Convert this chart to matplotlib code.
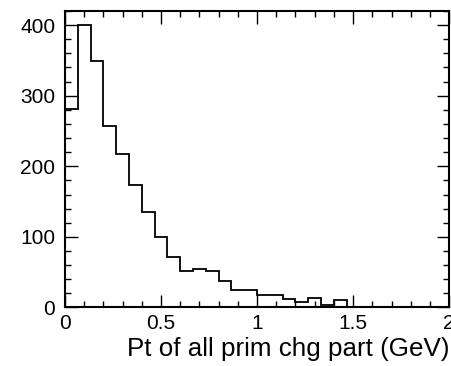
import matplotlib
matplotlib.use("Agg")
import matplotlib.pyplot as plt
import numpy as np
from matplotlib.ticker import MultipleLocator

# histogram: 30 bins from 0 to 2 GeV
bin_edges = np.linspace(0, 2, 31)
counts = [281, 400, 349, 257, 217, 174, 135, 100, 72, 51,
          55, 51, 37, 25, 25, 18, 18, 12, 8, 14,
          4, 11, 0, 0, 0, 0, 0, 0, 0, 0]

plt.rcParams['font.family'] = ['Liberation Sans', 'DejaVu Sans']

fig = plt.figure(figsize=(4.51, 3.66), dpi=100)
ax = fig.add_axes([0.144, 0.16, 0.852, 0.81])

ax.stairs(counts, bin_edges, color="black", linewidth=1.3)

ax.set_xlim(0, 2)
ax.set_ylim(0, 420)
ax.xaxis.set_major_locator(MultipleLocator(0.5))
ax.xaxis.set_minor_locator(MultipleLocator(0.1))
ax.yaxis.set_major_locator(MultipleLocator(100))
ax.yaxis.set_minor_locator(MultipleLocator(20))
ax.set_xticks([0, 0.5, 1, 1.5, 2], ["0", "0.5", "1", "1.5", "2"])

ax.tick_params(which="both", direction="in", top=True, right=True, labelsize=15, width=1)
ax.tick_params(which="major", length=9)
ax.tick_params(which="minor", length=4.5)
ax.tick_params(axis="x", pad=5)
ax.tick_params(axis="y", pad=7)
for s in ax.spines.values():
    s.set_linewidth(1.5)

ax.set_xlabel("Pt of all prim chg part (GeV)", loc="right", fontsize=18.7, labelpad=2.5)

fig.savefig("out.png", dpi=100)
